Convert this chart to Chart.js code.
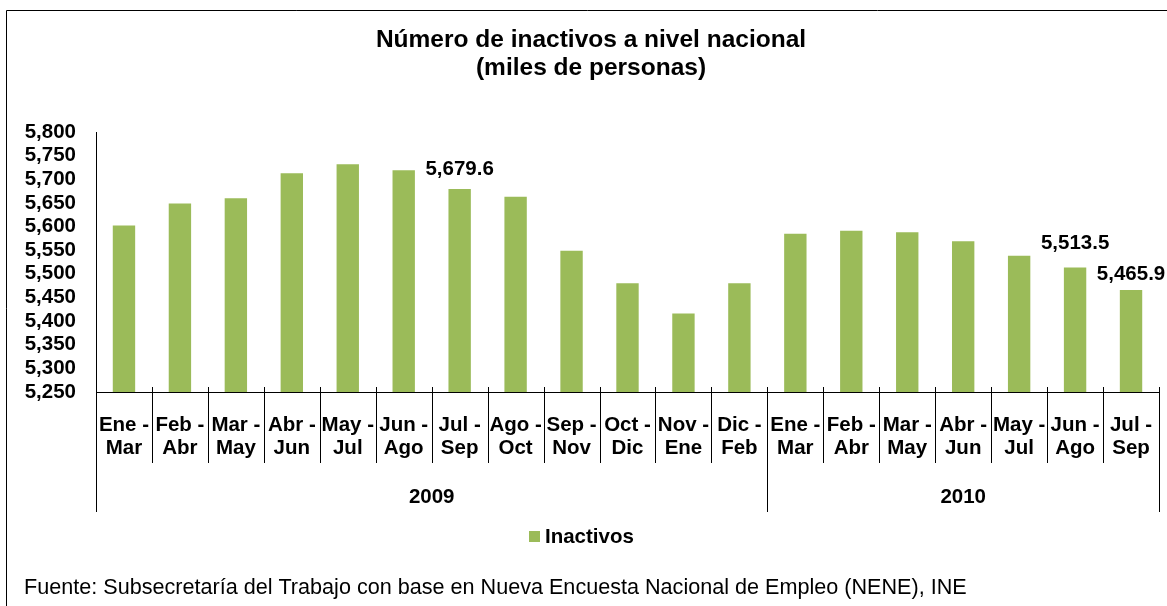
<!DOCTYPE html>
<html>
<head>
<meta charset="utf-8">
<script src="https://cdn.jsdelivr.net/npm/chart.js@4.4.1/dist/chart.umd.min.js"></script>
<style>
  html, body { margin: 0; padding: 0; background: #fff; }
  canvas { display: block; }
</style>
</head>
<body>
<canvas id="inactivosChart" width="1167" height="606"></canvas>
<script>
// ---- data ----
const periods = [
    'Ene - Mar', 'Feb - Abr', 'Mar - May', 'Abr - Jun', 'May - Jul', 'Jun - Ago',
    'Jul - Sep', 'Ago - Oct', 'Sep - Nov', 'Oct - Dic', 'Nov - Ene', 'Dic - Feb',
    'Ene - Mar', 'Feb - Abr', 'Mar - May', 'Abr - Jun', 'May - Jul', 'Jun - Ago', 'Jul - Sep'
];
const inactivos = [
    5602, 5649, 5660, 5713, 5732, 5719, 5679.6, 5663, 5549, 5480, 5416, 5480,
    5585, 5591, 5588, 5569, 5538, 5513.5, 5465.9
];
const years = ['2009', '2010'];
const yearCounts = [12, 7];
const labelledPoints = [6, 17, 18];
const yTicks = [5250, 5300, 5350, 5400, 5450, 5500, 5550, 5600, 5650, 5700, 5750, 5800];

const titleLines = ['Número de inactivos a nivel nacional', '(miles de personas)'];
const seriesName = 'Inactivos';
const sourceNote = 'Fuente: Subsecretaría del Trabajo con base en Nueva Encuesta Nacional de Empleo (NENE), INE';

const barColor = '#9BBB59';
const FONT = 'Arial, "Liberation Sans", sans-serif';
const fmt = v => v.toLocaleString('en-US', { maximumFractionDigits: 1 });

// everything that is not bars / y-axis is drawn here
const decorations = {
    id: 'decorations',
    afterDraw(chart) {
        const ctx = chart.ctx;
        const area = chart.chartArea;
        const xs = chart.scales.x;
        const ys = chart.scales.y;
        const n = periods.length;
        const step = (area.right - area.left) / n;

        ctx.save();

        // outer frame (cut off at right/bottom like the original)
        ctx.strokeStyle = '#000';
        ctx.lineWidth = 1;
        ctx.beginPath();
        ctx.moveTo(6.5, 620);
        ctx.lineTo(6.5, 10.5);
        ctx.lineTo(1180, 10.5);
        ctx.stroke();

        // title
        ctx.fillStyle = '#000';
        ctx.textAlign = 'center';
        ctx.textBaseline = 'middle';
        ctx.font = 'bold 24.5px ' + FONT;
        ctx.fillText(titleLines[0], 591, 40);
        ctx.fillText(titleLines[1], 591, 68);

        // category separators
        const yearEdges = [0];
        yearCounts.forEach(c => yearEdges.push(yearEdges[yearEdges.length - 1] + c));
        ctx.strokeStyle = '#000';
        ctx.lineWidth = 1;
        for (let i = 0; i <= n; i++) {
            const bx = Math.round(area.left + i * step) + 0.5;
            const isYear = yearEdges.includes(i);
            ctx.beginPath();
            ctx.moveTo(bx, i === 0 ? area.bottom : area.bottom - 5);
            ctx.lineTo(bx, isYear ? 512 : 463);
            ctx.stroke();
        }

        // category labels, two lines
        ctx.font = 'bold 20.5px ' + FONT;
        periods.forEach((p, i) => {
            const x = xs.getPixelForValue(i);
            const parts = p.split(' - ');
            ctx.fillText(parts[0] + ' -', x, 425);
            ctx.fillText(parts[1], x, 448);
        });

        // year labels
        years.forEach((y, k) => {
            const x0 = area.left + yearEdges[k] * step;
            const x1 = area.left + yearEdges[k + 1] * step;
            ctx.fillText(y, (x0 + x1) / 2, 497);
        });

        // value labels
        const lift = { 6: 20, 17: 24, 18: 16 };
        labelledPoints.forEach(i => {
            const x = xs.getPixelForValue(i);
            const y = ys.getPixelForValue(inactivos[i]) - (lift[i] || 20);
            ctx.fillText(fmt(inactivos[i]), x, y);
        });

        // legend
        ctx.fillStyle = barColor;
        ctx.fillRect(529, 531, 11, 11);
        ctx.fillStyle = '#000';
        ctx.textAlign = 'left';
        ctx.fillText(seriesName, 545, 537);

        // source
        ctx.font = '21.6px ' + FONT;
        ctx.fillText(sourceNote, 24, 588);

        ctx.restore();
    }
};

new Chart(document.getElementById('inactivosChart'), {
    type: 'bar',
    data: {
        labels: periods,
        datasets: [{
            label: seriesName,
            data: inactivos,
            backgroundColor: barColor,
            borderWidth: 0,
            categoryPercentage: 1,
            barPercentage: 0.4
        }]
    },
    options: {
        responsive: false,
        animation: false,
        events: [],
        layout: { padding: { top: 132, right: 8, left: 0, bottom: 0 } },
        plugins: {
            legend: { display: false },
            title: { display: false },
            tooltip: { enabled: false }
        },
        scales: {
            x: {
                grid: { display: false },
                ticks: { display: false },
                border: { display: true, color: '#000', width: 1 },
                afterFit(scale) { scale.height = 214; }
            },
            y: {
                min: 5250,
                max: 5800,
                afterBuildTicks(scale) { scale.ticks = yTicks.map(v => ({ value: v })); },
                ticks: {
                    color: '#000',
                    padding: 20,
                    autoSkip: false,
                    font: { family: FONT, size: 20.5, weight: 'bold' },
                    callback: v => fmt(v)
                },
                grid: { drawOnChartArea: false, drawTicks: false },
                border: { display: true, color: '#000', width: 1 },
                afterFit(scale) { scale.width = 96; }
            }
        }
    },
    plugins: [decorations]
});
</script>
</body>
</html>
